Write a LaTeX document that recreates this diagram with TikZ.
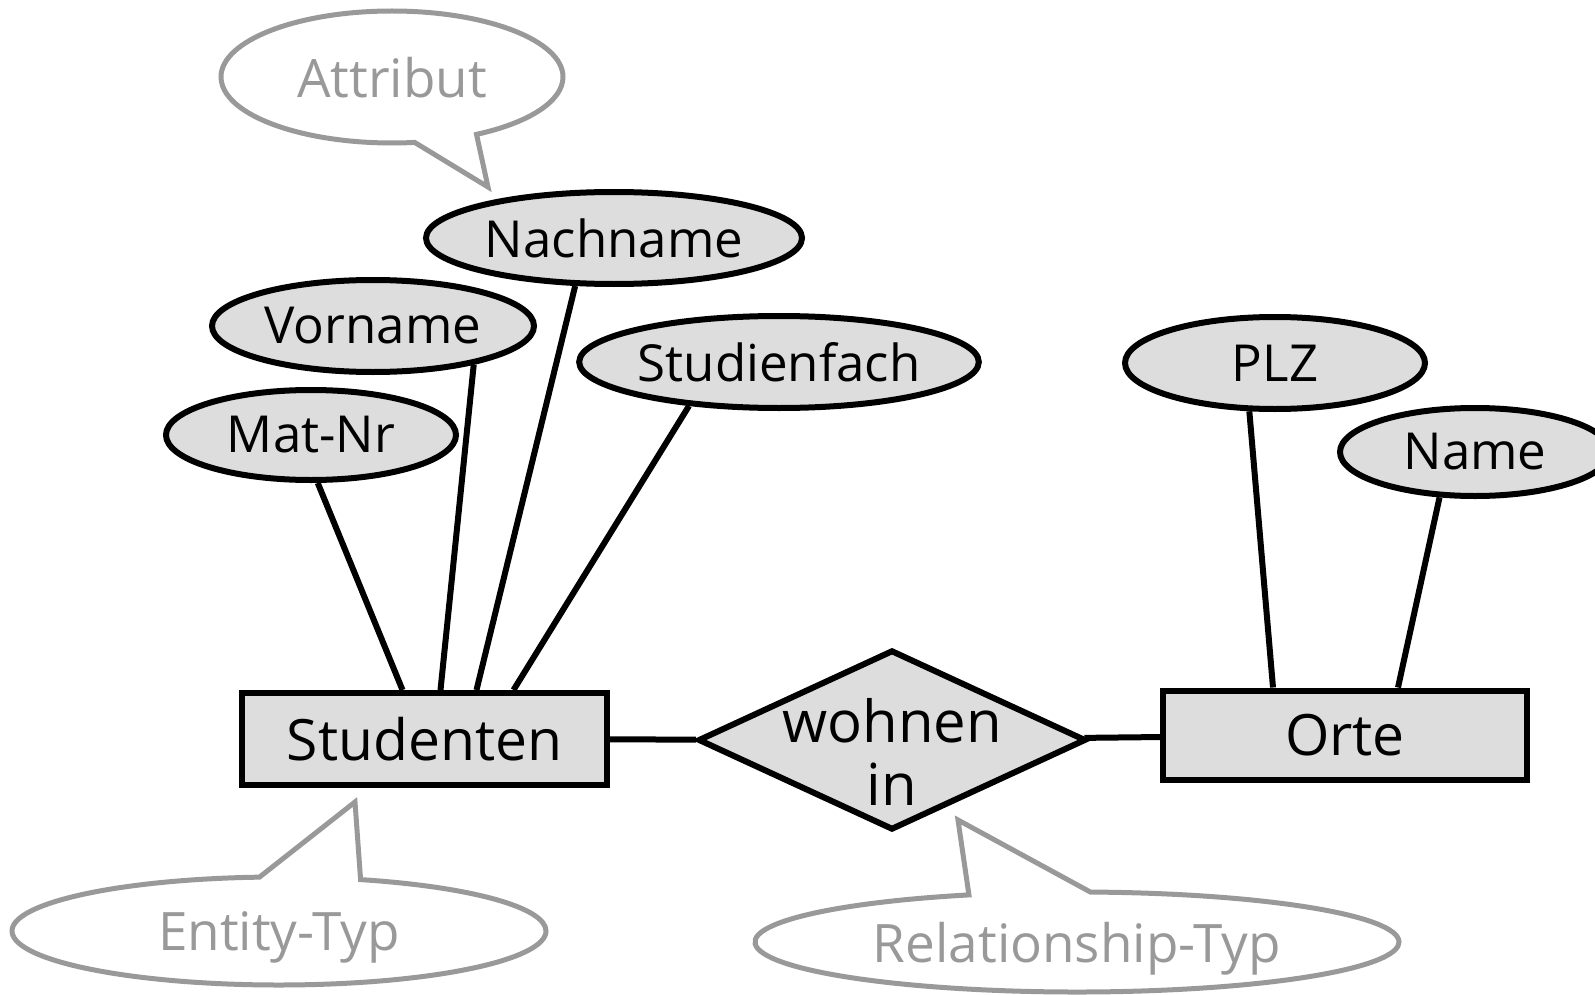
\documentclass[tikz,border=0pt]{standalone}
\usepackage{fontspec}
\setmainfont{Open Sans}
\usetikzlibrary{shapes.geometric,shapes.callouts}
\definecolor{erfill}{HTML}{DDDDDD}
\definecolor{notegray}{HTML}{999999}

\begin{document}
\begin{tikzpicture}[x=1pt,y=-1pt,
    entity/.style={draw,line width=6pt,fill=erfill,rectangle,inner sep=0pt,
      font=\fontsize{57}{63}\selectfont},
    attribute/.style={draw,line width=6pt,fill=erfill,ellipse,inner sep=0pt,
      font=\fontsize{51}{56}\selectfont},
    relation/.style={draw,line width=6pt,fill=erfill,diamond,aspect=2.16,
      inner xsep=-70pt,inner ysep=-50pt,align=center,
      font=\fontsize{58}{63}\selectfont},
    remark/.style={draw=notegray,text=notegray,line width=5pt,ellipse callout,
      callout pointer arc=22,inner sep=0pt,text depth=0pt,
      font=\fontsize{53}{60}\selectfont}
  ]
\useasboundingbox (0,0) rectangle (1595,995);

\node[entity,minimum width=365,minimum height=92] (stud) at (424.5,739) {Studenten};
\node[entity,minimum width=364,minimum height=89] (orte) at (1345,735) {Orte};
\node[relation,minimum width=388,minimum height=180] (wohnt) at (892,740)
  {\rule{0pt}{67pt}wohnen\\in};

\node[attribute,minimum width=376,minimum height=92] (nachname) at (614,238) {Nachname};
\node[attribute,minimum width=322,minimum height=92] (vorname) at (373,326) {Vorname};
\node[attribute,minimum width=396,minimum height=92] (fach) at (779,362) {Studienfach};
\node[attribute,minimum width=290,minimum height=90] (matnr) at (311,435) {Mat-Nr};
\node[attribute,minimum width=300,minimum height=92] (plz) at (1275,363) {PLZ};
\node[attribute,minimum width=270,minimum height=88] (ortname) at (1475,452) {Name};

\draw[line width=6pt] (stud) -- (wohnt) -- (orte);
\draw[line width=6pt] (matnr.-82) -- ([xshift=-22pt]stud.north);
\draw[line width=6pt] (vorname.-21) -- ([xshift=16pt]stud.north);
\draw[line width=6pt] (nachname.-129) -- ([xshift=52pt]stud.north);
\draw[line width=6pt] (fach.-154) -- ([xshift=89pt]stud.north);
\draw[line width=6pt] (plz.-118) -- ([xshift=-72pt]orte.north);
\draw[line width=6pt] (ortname.-128) -- ([xshift=53pt]orte.north);

\coordinate (attrtip) at (488,187);
\coordinate (enttip) at (355,802);
\coordinate (reltip) at (958,820);
\node[remark,minimum width=342,minimum height=132,callout absolute pointer=(attrtip)]
  (attrnote) at (392,77) {Attribut};
\node[remark,minimum width=534,minimum height=108,callout absolute pointer=(enttip)]
  (entnote) at (279,931) {Entity-Typ};
\node[remark,minimum width=644,minimum height=100,callout absolute pointer=(reltip)]
  (relnote) at (1077,942) {Relationship-Typ};
\end{tikzpicture}
\end{document}
